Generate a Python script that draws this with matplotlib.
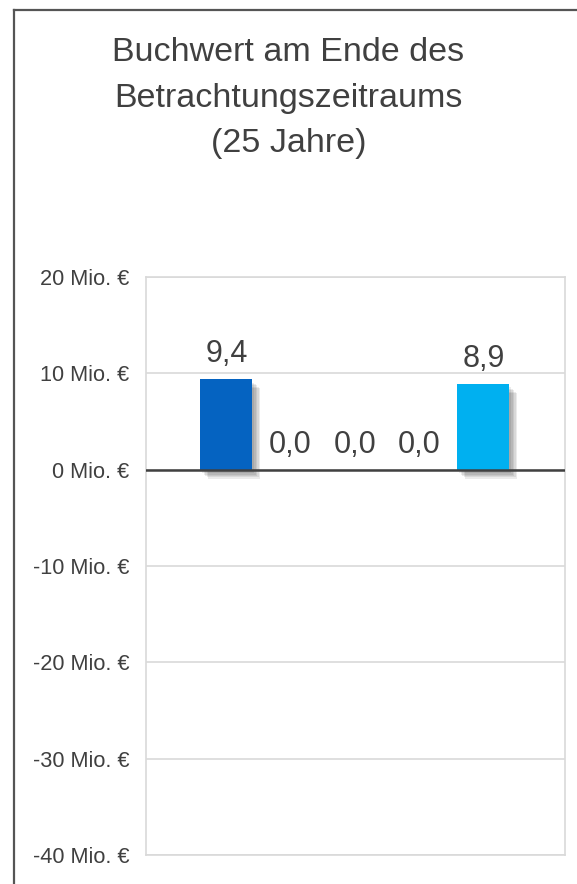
import matplotlib
matplotlib.use("Agg")
import matplotlib.pyplot as plt
import matplotlib.patheffects as pe
from matplotlib.lines import Line2D

# Book value at the end of the 25-year period, in million euros
series = ["A", "B", "C", "D", "E"]
values = [9.4, 0.0, 0.0, 0.0, 8.9]
bar_colors = ["#0563C1", "#A5A5A5", "#FFC000", "#70AD47", "#00B0F0"]
y_ticks = [-40, -30, -20, -10, 0, 10, 20]
title = "Buchwert am Ende des\nBetrachtungszeitraums\n(25 Jahre)"

plt.rcParams["font.family"] = ["Liberation Sans", "DejaVu Sans"]
text_color = "#404040"
grid_color = "#D9D9D9"

fig = plt.figure(figsize=(5.77, 8.84), dpi=100)
ax = fig.add_axes([146 / 577, 29 / 884, 419 / 577, 578 / 884])

x = list(range(len(series)))

# soft drop shadow: a few offset copies with low alpha
shadow = [
    pe.SimplePatchShadow(offset=(d, -d - 1), shadow_rgbFace="black", alpha=0.08)
    for d in (1.5, 2.5, 3.5, 4.5, 5.5)
] + [pe.Normal()]

bars = ax.bar(x, values, width=0.81, color=bar_colors, zorder=3)
for b in bars:
    b.set_path_effects(shadow)

for xi, v in zip(x, values):
    ax.annotate(f"{v:.1f}".replace(".", ","), (xi, v), xytext=(0, 12),
                textcoords="offset points", ha="center", va="baseline",
                fontsize=22, color=text_color, zorder=4)

ax.set_xlim(-1.25, len(series) - 1 + 1.27)
ax.set_ylim(-40, 20)
ax.set_yticks(y_ticks)
ax.set_yticklabels([f"{t} Mio. €" for t in y_ticks])
ax.set_xticks([])
ax.tick_params(axis="y", length=0, pad=12, labelsize=15.7, labelcolor=text_color)

ax.grid(axis="y", color=grid_color, linewidth=1.2, zorder=0)
for s in ax.spines.values():
    s.set_color(grid_color)
    s.set_linewidth(1.2)
ax.axhline(0, color=text_color, linewidth=1.8, zorder=4)

fig.text(0.5, 1 - 98 / 884, title, ha="center", va="center", fontsize=24.5,
         color=text_color, linespacing=1.6)

# outer chart frame (left and top edges)
fig.add_artist(Line2D([14 / 577, 14 / 577], [0, 1 - 10 / 884],
                      transform=fig.transFigure, color="#555555", linewidth=1.6))
fig.add_artist(Line2D([14 / 577, 1], [1 - 10 / 884, 1 - 10 / 884],
                      transform=fig.transFigure, color="#555555", linewidth=1.6))

fig.savefig("out.png", dpi=100)
